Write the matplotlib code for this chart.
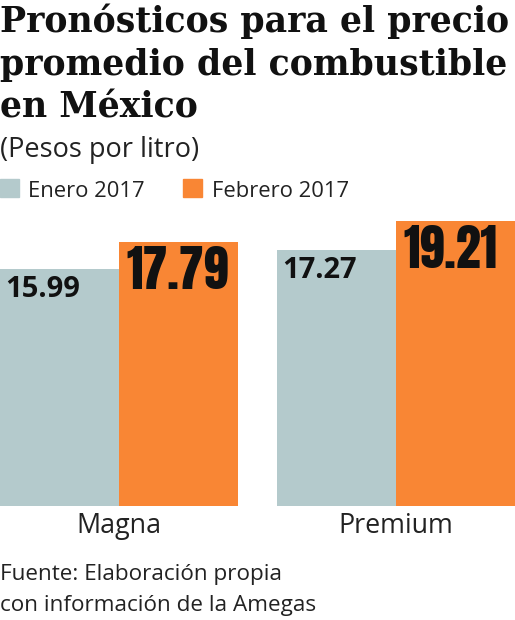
import matplotlib
matplotlib.use("Agg")
import matplotlib.pyplot as plt
import numpy as np

# datos
categorias = ["Magna", "Premium"]
enero_2017 = [15.99, 17.27]
febrero_2017 = [17.79, 19.21]
serie_labels = ["Enero 2017", "Febrero 2017"]

titulo = ["Pronósticos para el precio", "promedio del combustible", "en México"]
subtitulo = "(Pesos por litro)"
fuente = ["Fuente: Elaboración propia", "con información de la Amegas"]

c_enero = "#b4cacc"
c_feb = "#f98634"

W, H = 515, 620
fig = plt.figure(figsize=(W / 100, H / 100), dpi=100)
fig.patch.set_facecolor("white")


def fy(py):
    # pixel desde arriba -> fraccion de figura
    return 1 - py / H


# ejes: base en y=506 px, 20 unidades = 296.8 px
ax = fig.add_axes([0, fy(506), 1, 296.8 / H])
x = np.arange(len(categorias))
w = 0.43
ax.bar(x - w, enero_2017, width=w, align="edge", color=c_enero)
ax.bar(x, febrero_2017, width=w, align="edge", color=c_feb)
ax.set_xlim(-w, 1 + w)
ax.set_ylim(0, 20)
ax.axis("off")

sans = ["Open Sans", "DejaVu Sans"]
narrow = ["Anton", "DejaVu Sans"]
serif = ["DejaVu Serif"]

for xi, v in zip(x, enero_2017):
    ax.annotate(f"{v:.2f}", xy=(xi - w, v), xytext=(4, -15), textcoords="offset points",
                ha="left", va="center", fontsize=21, fontweight="bold", family=sans,
                color="#111111")
for xi, v in zip(x, febrero_2017):
    ax.annotate(f"{v:.2f}", xy=(xi, v), xytext=(5.5, -3), textcoords="offset points",
                ha="left", va="top", fontsize=36, family=narrow,
                color="#111111")

for xi, cat in zip(x, categorias):
    fig.text((xi + w) / (1 + 2 * w), fy(533), cat, ha="center", va="baseline",
             fontsize=19.4, family=sans, color="#222222")

# titulo
for i, linea in enumerate(titulo):
    fig.text(0.0, fy(32 + 42.5 * i), linea, ha="left", va="baseline", fontsize=25,
             fontweight="bold", family=serif, color="#111111")

fig.text(0.0, fy(157), subtitulo, ha="left", va="baseline", fontsize=19.5,
         family=sans, color="#222222")

# leyenda
fig.patches.append(plt.Rectangle((0, fy(197)), 19 / W, 18 / H, transform=fig.transFigure,
                                 color=c_enero, figure=fig))
fig.text(28 / W, fy(197), serie_labels[0], ha="left", va="baseline", fontsize=15.8,
         family=sans, color="#222222")
fig.patches.append(plt.Rectangle((183 / W, fy(197)), 19 / W, 18 / H, transform=fig.transFigure,
                                 color=c_feb, figure=fig))
fig.text(212 / W, fy(197), serie_labels[1], ha="left", va="baseline", fontsize=15.8,
         family=sans, color="#222222")

# fuente
for i, linea in enumerate(fuente):
    fig.text(0.0, fy(580 + 31 * i), linea, ha="left", va="baseline", fontsize=16.2,
             family=sans, color="#222222")

fig.savefig("out.png", dpi=100, facecolor="white")
